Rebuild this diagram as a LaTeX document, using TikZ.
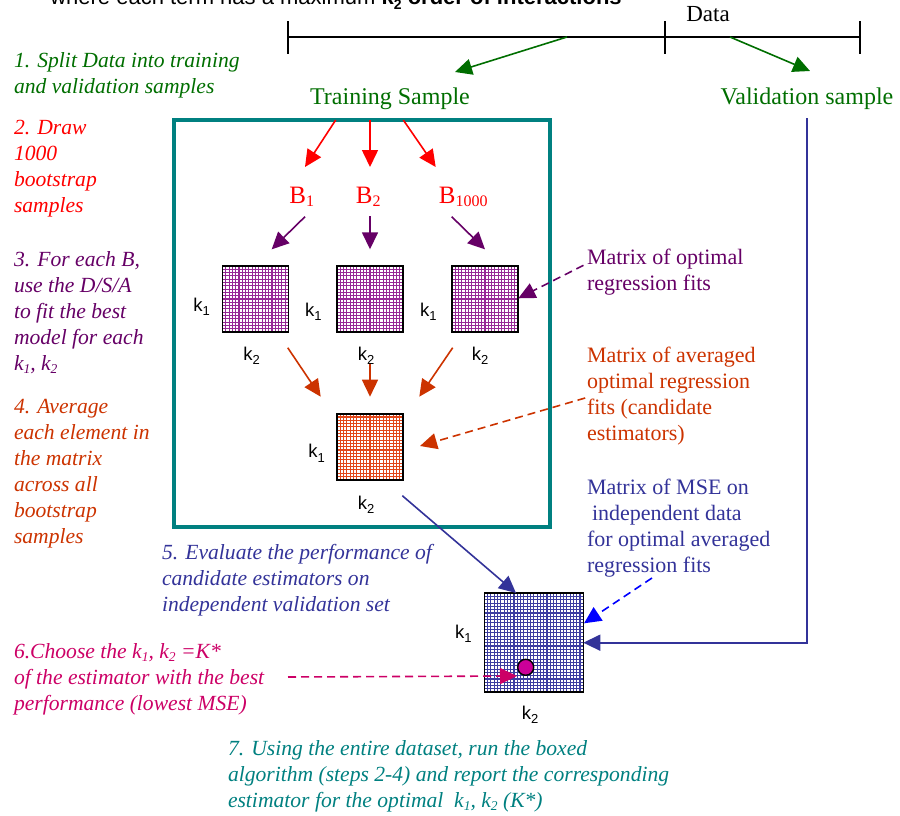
\documentclass[tikz,border=0pt]{standalone}
\usepackage{fontspec}
\setmainfont{Liberation Serif}
\setsansfont{Liberation Sans}
\usetikzlibrary{arrows.meta}

\definecolor{cgreen}{RGB}{0,110,0}
\definecolor{cteal}{RGB}{0,128,128}
\definecolor{cred}{RGB}{255,0,0}
\definecolor{cpurple}{RGB}{102,0,102}
\definecolor{cpgrid}{RGB}{150,40,150}
\definecolor{corange}{RGB}{204,51,0}
\definecolor{cogrid}{RGB}{225,70,25}
\definecolor{cblue}{RGB}{51,51,153}
\definecolor{cbgrid}{RGB}{60,60,160}
\definecolor{cbright}{RGB}{0,0,255}
\definecolor{cmag}{RGB}{204,0,102}
\definecolor{cdot}{RGB}{204,0,153}

\newcommand{\lowsub}[1]{\raisebox{-0.35ex}{\fontsize{13.5}{13.5}\selectfont #1}}
\newcommand{\ksub}[1]{k\raisebox{-0.45ex}{\fontsize{13}{13}\selectfont #1}}
\newcommand{\bsub}[1]{B\raisebox{-0.3ex}{\fontsize{16}{16}\selectfont #1}}

\begin{document}
\begin{tikzpicture}[x=1pt,y=-1pt,
  every node/.style={inner sep=0pt, outer sep=0pt},
  rtxt/.style={align=left, anchor=north west, font=\fontsize{22}{26}\selectfont},
  steptxt/.style={align=left, anchor=north west, font=\fontsize{21.6}{26}\selectfont\itshape},
  arr/.style={line width=1.6pt, -{Triangle[length=17pt,width=16pt]}},
  darr/.style={arr, dash pattern=on 8pt off 5pt},
  klab/.style={font=\sffamily\fontsize{18.5}{18.5}\selectfont},
  blab/.style={font=\fontsize{25}{25}\selectfont, text=cred, anchor=base},
  mat/.style={draw=black, line width=1.6pt, minimum size=66pt, fill=white,
    path picture={\draw[step=3.3pt, line width=1.1pt, #1]
      (path picture bounding box.south west) grid (path picture bounding box.north east);}}
]
\useasboundingbox (0,0) rectangle (900,816);

% title (cut off at top, as in the source)
\node[font=\sffamily\fontsize{22}{22}\selectfont, anchor=base] (title) at (336,5)
  {where each term has a maximum \textbf{k\raisebox{-0.35ex}{\fontsize{14}{14}\selectfont 2} order of interactions}};

% data line
\coordinate (d0) at (288,37);
\coordinate (d1) at (665,37);
\coordinate (d2) at (860,37);
\draw[line width=1.6pt] (d0) -- (d2);
\draw[line width=1.6pt] ([yshift=-17pt]d0) -- ([yshift=16pt]d0);
\draw[line width=1.6pt] ([yshift=-17pt]d1) -- ([yshift=16pt]d1);
\draw[line width=1.6pt] ([yshift=-17pt]d2) -- ([yshift=16pt]d2);
\node[font=\fontsize{23}{23}\selectfont, anchor=base] (data) at (708,22) {Data};

% samples
\node[font=\fontsize{24}{24}\selectfont, text=cgreen, anchor=base] (train) at (390,104) {Training Sample};
\node[font=\fontsize{24}{24}\selectfont, text=cgreen, anchor=base] (valid) at (807,104) {Validation sample};
\coordinate (gs1) at (567,37); \coordinate (ge1) at (455,72);
\coordinate (gs2) at (730,37); \coordinate (ge2) at (810,71);
\draw[arr, cgreen] (gs1) -- (ge1);
\draw[arr, cgreen] (gs2) -- (ge2);

% boxed algorithm
\node[draw=cteal, line width=4pt, minimum width=376pt, minimum height=407pt] (box) at (362,323.5) {};

% bootstrap samples
\node[blab] (b1) at (301.7,203) {\bsub{1}};
\node[blab] (b2) at (368.3,203) {\bsub{2}};
\node[blab] (b3) at (463.3,203) {\bsub{1000}};
\coordinate (r1s) at (335.7,120); \coordinate (r1e) at (305,167);
\coordinate (r2s) at (370,120);   \coordinate (r2e) at (370,167);
\coordinate (r3s) at (403.3,120); \coordinate (r3e) at (435.7,167);
\draw[arr, cred] (r1s) -- (r1e);
\draw[arr, cred] (r2s) -- (r2e);
\draw[arr, cred] (r3s) -- (r3e);

% fit matrices
\node[mat=cpgrid] (m1) at (255.5,299) {};
\node[mat=cpgrid] (m2) at (370,299) {};
\node[mat=cpgrid] (m3) at (485,299) {};
\coordinate (p1s) at (305,216.7);   \coordinate (p1e) at (271.7,249.3);
\coordinate (p2s) at (370,216);     \coordinate (p2e) at (370,249.3);
\coordinate (p3s) at (451.7,216.7); \coordinate (p3e) at (485,249.3);
\draw[arr, cpurple] (p1s) -- (p1e);
\draw[arr, cpurple] (p2s) -- (p2e);
\draw[arr, cpurple] (p3s) -- (p3e);
\node[klab] (m1k1) at (201.7,306.7) {\ksub{1}};
\node[klab] (m2k1) at (313.3,311.7) {\ksub{1}};
\node[klab] (m3k1) at (428.3,311.7) {\ksub{1}};
\node[klab] (m1k2) at (251.7,356) {\ksub{2}};
\node[klab] (m2k2) at (366,356) {\ksub{2}};
\node[klab] (m3k2) at (480,356) {\ksub{2}};

% averaged matrix
\node[mat=cogrid] (avg) at (370,446.7) {};
\node[klab] (avgk1) at (316.7,453.3) {\ksub{1}};
\node[klab] (avgk2) at (366,505) {\ksub{2}};
\coordinate (o1s) at (287.7,347.7); \coordinate (o1e) at (320.7,396.7);
\coordinate (o2s) at (370,364.3);   \coordinate (o2e) at (370,396.7);
\coordinate (o3s) at (452.7,347.7); \coordinate (o3e) at (419.3,396.7);
\draw[arr, corange] (o1s) -- (o1e);
\draw[arr, corange] (o2s) -- (o2e);
\draw[arr, corange] (o3s) -- (o3e);

% MSE matrix
\node[mat=cbgrid, minimum size=99pt] (mse) at (533.8,642.7) {};
\node[klab] (msek1) at (463.3,634) {\ksub{1}};
\node[klab] (msek2) at (530,715) {\ksub{2}};
\node[circle, draw=black, line width=1.4pt, fill=cdot, minimum size=16pt] (dot) at (525.7,667.3) {};

\coordinate (bls) at (402.3,495.7); \coordinate (ble) at (516,593);
\draw[arr, cblue] (bls) -- (ble);
\coordinate (vtop) at (807,118);
\draw[arr, cblue] (vtop) |- (mse.east);

% right annotations
\node[rtxt, text=cpurple] (n1) at (587,245.8) {\strut Matrix of optimal\\regression fits};
\node[rtxt, text=corange] (n2) at (587,343.8) {\strut Matrix of averaged\\optimal regression\\fits (candidate\\estimators)};
\node[rtxt, text=cblue] (n3) at (587,475.8) {\strut Matrix of MSE on\\\hspace{5pt}independent data\\for optimal averaged\\regression fits};
\coordinate (q1s) at (583.5,265.3); \coordinate (q1e) at (518.3,298.3);
\coordinate (q2s) at (585.2,398);   \coordinate (q2e) at (420,446);
\coordinate (q3s) at (652,578);     \coordinate (q3e) at (584,623.3);
\draw[darr, cpurple] (q1s) -- (q1e);
\draw[darr, corange] (q2s) -- (q2e);
\draw[darr, cbright] (q3s) -- (q3e);

% steps
\node[steptxt, text=cgreen] (s1) at (14,49.8) {\strut 1. Split Data into training\\and validation samples};
\node[steptxt, text=cred] (s2) at (14,115.8) {\strut 2. Draw\\1000\\bootstrap\\samples};
\node[steptxt, text=cpurple] (s3) at (14,247.8) {\strut 3. For each B,\\use the D/S/A\\to fit the best\\model for each\\k\lowsub{1}, k\lowsub{2}};
\node[steptxt, text=corange] (s4) at (14,394.8) {\strut 4. Average\\each element in\\the matrix\\across all\\bootstrap\\samples};
\node[steptxt, text=cblue] (s5) at (162,540.8) {\strut 5. Evaluate the performance of\\candidate estimators on\\independent validation set};
\node[steptxt, text=cmag] (s6) at (14,639.8) {\strut 6.Choose the k\lowsub{1}, k\lowsub{2} =K*\\of the estimator with the best\\performance (lowest MSE)};
\node[steptxt, text=cteal] (s7) at (228,736.8) {\strut 7. Using the entire dataset, run the boxed\\algorithm (steps 2-4) and report the corresponding\\estimator for the optimal\ \ k\lowsub{1}, k\lowsub{2} (K*)};

\coordinate (ms) at (288,677); \coordinate (me) at (517,676);
\draw[darr, cmag] (ms) -- (me);
\end{tikzpicture}
\end{document}
